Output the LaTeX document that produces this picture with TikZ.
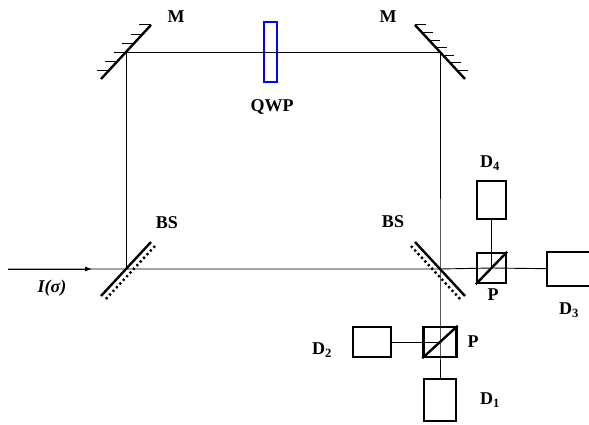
\documentclass[tikz,border=0pt]{standalone}
\usepackage{fontspec}
\setmainfont{Liberation Serif}
\usetikzlibrary{calc,arrows.meta}
\tikzset{every picture/.style={x=1pt,y=-1pt}}
\tikzset{beam/.style={line width=0.9pt}}
\tikzset{optic/.style={line width=2.4pt}}
\tikzset{hatch/.style={line width=1pt}}
\tikzset{coat/.style={line width=2.4pt,dash pattern=on 2.2pt off 2.8pt}}
\tikzset{box/.style={rectangle,draw,line width=2.4pt,inner sep=0pt}}
\tikzset{annot/.style={font=\fontsize{18}{20}\selectfont\bfseries}}

\begin{document}
\begin{tikzpicture}
\useasboundingbox (0,0) rectangle (589,425);
\coordinate (in) at (8,269);
\coordinate (tip) at (92,269);
\coordinate (mL) at (126,52);
\coordinate (mR) at (440,52);
\coordinate (bsL) at (126,269);
\coordinate (bsR) at (440,269);
\coordinate (mL1) at (151,25);
\coordinate (mL2) at (101,79);
\coordinate (mR1) at (415,25);
\coordinate (mR2) at (465,79);
\node [box,draw=blue,line width=2pt,minimum width=13,minimum height=60] (qwp) at (270.5,52) {};
\node [box,minimum width=29,minimum height=30] (P1) at (491.5,268) {};
\node [box,minimum width=33,minimum height=30] (P2) at (440,342) {};
\node [box,minimum width=29,minimum height=38] (D4) at (491.5,200) {};
\node [box,minimum width=46,minimum height=34] (D3) at (570,269) {};
\node [box,minimum width=38,minimum height=30] (D2) at (372,342) {};
\node [box,minimum width=32,minimum height=42] (D1) at (440,400) {};
\draw [beam,-{Latex[length=7pt,width=5pt]}] (in) -- (tip);
\draw [beam] (in) -- (bsL) -- (bsR) -- (P1.center) -- (D3);
\draw [beam] (bsL) -- (mL) -- (mR) -- (P2.center) -- (D1);
\draw [beam] (P1.center) -- (D4);
\draw [beam] (P2.center) -- (D2);
\draw [optic] (mL1) -- (mL2);
\foreach \t in {0,0.17,0.34,0.51,0.68,0.85}
  \draw [hatch] ($(mL1)!\t!(mL2)$) -- ++(-12,0);
\draw [optic] (mR1) -- (mR2);
\foreach \t in {0,0.14,0.28,0.42,0.56,0.70,0.84}
  \draw [hatch] ($(mR1)!\t!(mR2)$) -- ++(11,0);
\draw [optic] ($(bsL)+(25,-27)$) -- ($(bsL)+(-25,27)$);
\draw [coat] ($(bsL)+(29,-23)$) -- ($(bsL)+(-21,31)$);
\draw [optic] ($(bsR)+(-25,-27)$) -- ($(bsR)+(25,27)$);
\draw [coat] ($(bsR)+(-29,-23)$) -- ($(bsR)+(21,31)$);
\draw [optic] (P1.south west) -- (P1.north east);
\draw [optic] (P2.south west) -- (P2.north east);
\node [annot] (lmL) at (176,17) {M};
\node [annot] (lmR) at (388,17) {M};
\node [annot] (lqwp) at (272,107) {QWP};
\node [annot] (lbsL) at (167,223) {BS};
\node [annot] (lbsR) at (393,222) {BS};
\node [annot] (lin) at (52,288) {\itshape I(σ)};
\node [annot] (lD4) at (490,163) {D\textsubscript{4}};
\node [annot] (lP1) at (493,295) {P};
\node [annot] (lD3) at (569,310) {D\textsubscript{3}};
\node [annot] (lP2) at (473,342) {P};
\node [annot] (lD2) at (322,350) {D\textsubscript{2}};
\node [annot] (lD1) at (490,400) {D\textsubscript{1}};
\end{tikzpicture}
\end{document}
